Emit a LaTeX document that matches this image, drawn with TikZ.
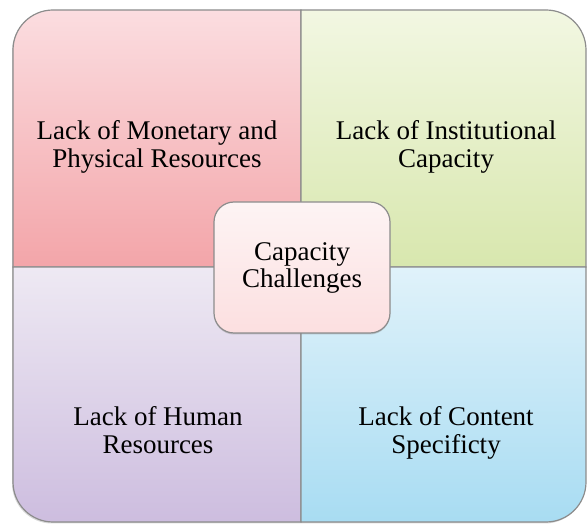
\documentclass[tikz,border=0pt]{standalone}
\usepackage{fontspec}
\setmainfont{Liberation Serif}
\usetikzlibrary{shadows}
\definecolor{edgegray}{HTML}{8C8C8C}
\definecolor{redtop}{HTML}{FBDDE0}
\definecolor{redbot}{HTML}{F3A5A9}
\definecolor{greentop}{HTML}{F2F7E2}
\definecolor{greenbot}{HTML}{D8E7AE}
\definecolor{violettop}{HTML}{EEE9F3}
\definecolor{violetbot}{HTML}{CDBDDF}
\definecolor{bluetop}{HTML}{E0F2FA}
\definecolor{bluebot}{HTML}{A8DCF2}
\definecolor{hubtop}{HTML}{FDF4F4}
\definecolor{hubbot}{HTML}{FCDFE0}
\begin{document}
\begin{tikzpicture}[x=1pt,y=1pt,
  quad/.style={draw=edgegray, line width=1.2pt},
  label/.style={align=center, font=\fontsize{27}{28}\selectfont, text=black},
  hub/.style={draw=edgegray, line width=1.2pt, rounded corners=20pt,
    top color=hubtop, bottom color=hubbot,
    minimum width=176pt, minimum height=131pt,
    align=center, font=\fontsize{27}{27}\selectfont,
    drop shadow={shadow xshift=0pt, shadow yshift=-1.5pt, opacity=0.35}}]
\useasboundingbox (0,0) rectangle (587,525);
% soft shadow under the outer frame
\fill[gray, opacity=0.3, rounded corners=40pt] (12,1.5) rectangle (585,514);
% the four quadrants, each rounded at its outer corner
\path[quad, top color=redtop, bottom color=redbot]
  (13,258) -- (13,475) arc[start angle=180, end angle=90, radius=40] -- (301,515) -- (301,258) -- cycle;
\path[quad, top color=greentop, bottom color=greenbot]
  (301,258) -- (301,515) -- (546,515) arc[start angle=90, end angle=0, radius=40] -- (586,258) -- cycle;
\path[quad, top color=violettop, bottom color=violetbot]
  (13,258) -- (301,258) -- (301,3) -- (53,3) arc[start angle=270, end angle=180, radius=40] -- cycle;
\path[quad, top color=bluetop, bottom color=bluebot]
  (301,258) -- (586,258) -- (586,43) arc[start angle=0, end angle=-90, radius=40] -- (301,3) -- cycle;
% quadrant labels
\node[label] (money) at (157,378) {Lack of Monetary and\\Physical Resources};
\node[label] (inst) at (446,378) {Lack of Institutional\\Capacity};
\node[label] (human) at (158,95) {Lack of Human\\Resources};
\node[label] (content) at (446,92) {Lack of Content\\Specificty};
% central box
\node[hub] (hub) at (302,257.5) {Capacity\\Challenges};
\end{tikzpicture}
\end{document}
